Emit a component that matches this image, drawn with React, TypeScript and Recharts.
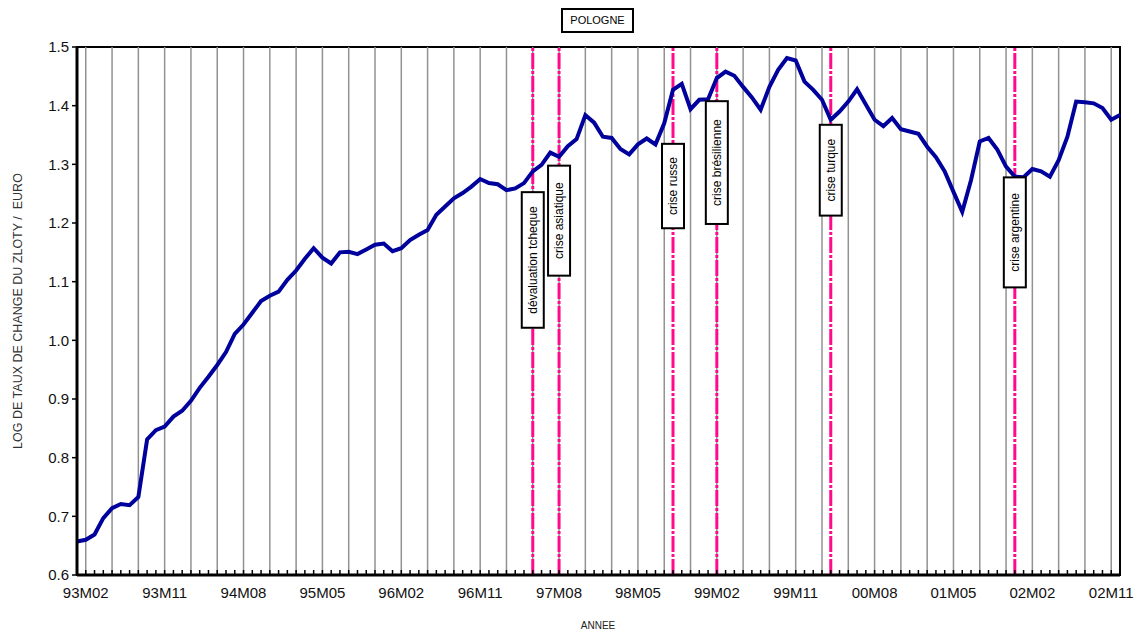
import React from 'react';
import {
  LineChart,
  Line,
  XAxis,
  YAxis,
  ReferenceLine,
  ReferenceArea,
  ReferenceDot,
} from 'recharts';

// log of the zloty / euro rate, monthly from 93M01 to 02M12
const logRate = [
  0.657, 0.66, 0.669, 0.697, 0.714, 0.721, 0.719, 0.733, 0.831, 0.847,
  0.853, 0.87, 0.88, 0.897, 0.919, 0.938, 0.958, 0.98, 1.011, 1.027,
  1.047, 1.067, 1.076, 1.083, 1.103, 1.119, 1.139, 1.157, 1.141, 1.131,
  1.15, 1.151, 1.147, 1.155, 1.163, 1.165, 1.152, 1.157, 1.171, 1.18,
  1.188, 1.214, 1.228, 1.242, 1.251, 1.262, 1.275, 1.268, 1.266, 1.256,
  1.259, 1.268, 1.288, 1.299, 1.32, 1.313, 1.331, 1.343, 1.384, 1.371,
  1.347, 1.345, 1.326, 1.317, 1.334, 1.344, 1.334, 1.37, 1.427, 1.437,
  1.394, 1.41, 1.411, 1.447, 1.458, 1.451, 1.432, 1.414, 1.393, 1.432,
  1.461, 1.481, 1.477, 1.441, 1.427, 1.41, 1.376, 1.39, 1.407, 1.428,
  1.402, 1.376, 1.365, 1.379, 1.36, 1.356, 1.352, 1.33, 1.312, 1.288,
  1.253, 1.219, 1.273, 1.339, 1.345, 1.325, 1.296, 1.279, 1.278, 1.292,
  1.288, 1.279, 1.307, 1.347, 1.407, 1.406, 1.404, 1.396, 1.376, 1.384,
];

const tickLabels = [
  '93M02', '93M11', '94M08', '95M05', '96M02', '96M11', '97M08',
  '98M05', '99M02', '99M11', '00M08', '01M05', '02M02', '02M11',
];

const yTicks = [0.6, 0.7, 0.8, 0.9, 1.0, 1.1, 1.2, 1.3, 1.4, 1.5];

const crisisNames = [
  'dévaluation tcheque',
  'crise asiatique',
  'crise russe',
  'crise brésilienne',
  'crise turque',
  'crise argentine',
];
// month index (0 = 93M01) of each crisis
const crisisMonths = [52, 55, 68, 73, 86, 107];
// level where each label box is centred
const crisisBoxLevel = [1.137, 1.204, 1.263, 1.303, 1.29, 1.184];

const FONT = '"Liberation Sans", Arial, sans-serif';

const data = logRate.map((v, m) => ({ m, v }));
const months = logRate.map((_, m) => m);
const gridMonths = months.filter((m) => (m - 1) % 3 === 0);
const labelMonths = months.filter((m) => (m - 1) % 9 === 0);

function MonthTick(props: any) {
  const { x, y, payload } = props;
  const k = labelMonths.indexOf(payload.value);
  return (
    <g>
      <line x1={x} x2={x} y1={y} y2={y - 5} stroke="#000" strokeWidth={1.5} />
      {k >= 0 && (
        <text
          x={x}
          y={y + 23}
          textAnchor="middle"
          fontSize={15}
          fontFamily={FONT}
          fill="#111"
        >
          {tickLabels[k]}
        </text>
      )}
    </g>
  );
}

const crisisBox = (name: string) => (p: any) => {
  const h = name.length * 6.4 + 14;
  const w = 22;
  return (
    <g>
      <rect
        x={p.cx - w / 2}
        y={p.cy - h / 2}
        width={w}
        height={h}
        fill="#fff"
        stroke="#000"
        strokeWidth={2}
      />
      <text
        transform={`translate(${p.cx + 4},${p.cy}) rotate(-90)`}
        textAnchor="middle"
        fontSize={12}
        fontFamily={FONT}
        fill="#000"
      >
        {name}
      </text>
    </g>
  );
};

export default function App() {
  return (
    <div style={{ position: 'relative', width: 1145, height: 636, background: '#fff' }}>
      <style>{'body{margin:0}'}</style>
      <LineChart
        width={1145}
        height={636}
        data={data}
        margin={{ top: 47, right: 25, left: 0, bottom: 0 }}
      >
        <XAxis
          dataKey="m"
          type="number"
          domain={[0, 119]}
          ticks={months}
          interval={0}
          height={61}
          tickLine={false}
          tickSize={0}
          tickMargin={0}
          tick={<MonthTick />}
          axisLine={{ stroke: '#000', strokeWidth: 3 }}
        />
        <YAxis
          type="number"
          domain={[0.6, 1.5]}
          ticks={yTicks}
          tickFormatter={(v: number) => v.toFixed(1)}
          width={77}
          tickSize={5}
          tickMargin={3}
          axisLine={{ stroke: '#000', strokeWidth: 3 }}
          tickLine={{ stroke: '#000', strokeWidth: 1.5 }}
          tick={{ fill: '#111', fontSize: 15, fontFamily: FONT }}
          allowDataOverflow
        />
        {gridMonths.map((m) => (
          <ReferenceLine key={`g${m}`} x={m} stroke="#929292" strokeWidth={1.5} />
        ))}
        <ReferenceArea
          x1={0}
          x2={119}
          y1={0.6}
          y2={1.5}
          fill="none"
          stroke="#000"
          strokeWidth={2}
          fillOpacity={0}
        />
        {crisisMonths.map((m) => (
          <ReferenceLine
            key={`c${m}`}
            x={m}
            stroke="#ff0a8c"
            strokeWidth={3}
            strokeDasharray="16 2 3 2"
          />
        ))}
        <Line
          dataKey="v"
          stroke="#00009c"
          strokeWidth={4}
          dot={false}
          isAnimationActive={false}
        />
        {crisisNames.map((name, k) => (
          <ReferenceDot
            key={name}
            x={crisisMonths[k]}
            y={crisisBoxLevel[k]}
            r={1}
            ifOverflow="visible"
            shape={crisisBox(name)}
          />
        ))}
      </LineChart>
      <div
        style={{
          position: 'absolute',
          left: 561,
          top: 8,
          width: 73,
          height: 25,
          boxSizing: 'border-box',
          border: '2px solid #000',
          fontFamily: FONT,
          fontSize: 11,
          lineHeight: '21px',
          textAlign: 'center',
          background: '#fff',
        }}
      >
        POLOGNE
      </div>
      <div
        style={{
          position: 'absolute',
          left: 18 - 200,
          top: 311 - 8,
          width: 400,
          height: 16,
          lineHeight: '16px',
          textAlign: 'center',
          transform: 'rotate(-90deg)',
          fontFamily: FONT,
          fontSize: 12.5,
          color: '#333',
          whiteSpace: 'pre',
        }}
      >
        {'LOG DE TAUX DE CHANGE DU ZLOTY /  EURO'}
      </div>
      <div
        style={{
          position: 'absolute',
          left: 498,
          top: 620,
          width: 200,
          textAlign: 'center',
          fontFamily: FONT,
          fontSize: 10,
          color: '#222',
        }}
      >
        ANNEE
      </div>
    </div>
  );
}
